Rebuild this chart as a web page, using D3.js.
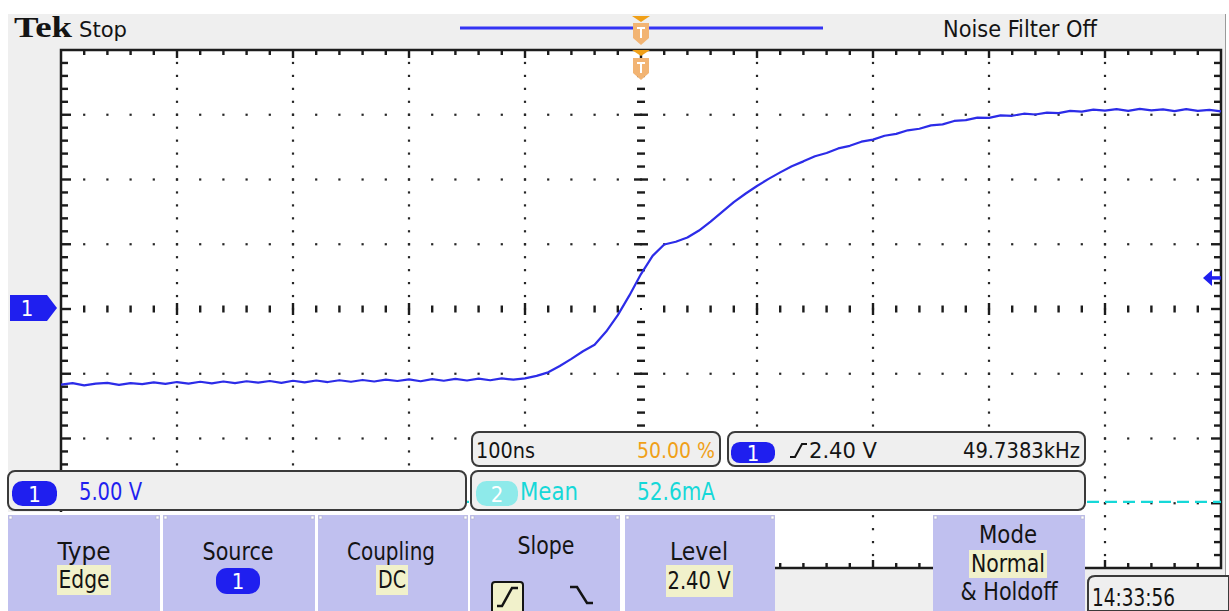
<!DOCTYPE html>
<html>
<head>
<meta charset="utf-8">
<script src="https://cdn.jsdelivr.net/npm/d3@7"></script>
<style>
  html, body { margin: 0; padding: 0; background: #fff; }
  svg { display: block; }
  text { font-family: "DejaVu Sans Condensed", "Liberation Sans Narrow", "DejaVu Sans", sans-serif; font-stretch: condensed; }
</style>
</head>
<body>
<svg id="scope" width="1229" height="611"></svg>
<script>
// ---- Acquisition settings -------------------------------------------------
const timePerDiv = 100;          // ns / div
const voltsPerDiv = 5;           // V / div, channel 1
const divsX = 10, divsY = 8, minorPerDiv = 5;
const triggerLevel = 2.40;       // V
const ch2LevelDiv = -2.98;       // channel 2 trace position, divisions

// ---- Channel 1 record: sample times (ns) and voltages (V) ----------------
const sampleTimes = d3.range(-500, 501, 10);
const ch1Volts = [
  -5.84, -5.72, -5.90, -5.76, -5.70, -5.86, -5.72, -5.80, -5.66, -5.78,
  -5.64, -5.76, -5.62, -5.74, -5.60, -5.72, -5.58, -5.68, -5.56, -5.70,
  -5.54, -5.66, -5.52, -5.64, -5.50, -5.62, -5.48, -5.60, -5.46, -5.56,
  -5.44, -5.58, -5.42, -5.54, -5.40, -5.52, -5.38, -5.50, -5.36, -5.46,
  -5.36, -5.16, -4.89, -4.40, -3.85, -3.26, -2.76, -1.74, -0.47, 1.05,
  2.70, 4.10, 4.98, 5.19, 5.52, 6.06, 6.75, 7.50, 8.25, 8.90,
  9.50, 10.05, 10.55, 11.03, 11.40, 11.80, 12.05, 12.40, 12.60, 12.92,
  13.08, 13.38, 13.52, 13.80, 13.92, 14.18, 14.26, 14.52, 14.58, 14.78,
  14.76, 14.95, 14.92, 15.08, 15.02, 15.16, 15.12, 15.30, 15.24, 15.40,
  15.32, 15.44, 15.30, 15.46, 15.34, 15.42, 15.28, 15.44, 15.30, 15.38,
  15.26
];

// ---- Readout texts ---------------------------------------------------------
const headerLabels = ["Tek", "Stop", "Noise Filter Off"];
const horizReadout = ["100ns", "50.00 %"];
const trigReadout = ["1", "2.40 V", "49.7383kHz"];
const ch1Readout = ["1", "5.00 V"];
const measReadout = ["2", "Mean", "52.6mA"];
const menuTitles = ["Type", "Source", "Coupling", "Slope", "Level", "Mode"];
const menuValues = ["Edge", "1", "DC", "", "2.40 V", "Normal"];
const timestamp = "14:33:56";

// ---- Colours ---------------------------------------------------------------
const C = {
  bezel: "#efefef", grid: "#1c1c1c", trace: "#2c2ce8", ch1: "#1f1fef",
  ch2: "#16d8d8", ch2pill: "#8eeaea", orange: "#f0a018", shield: "#f2b473",
  menu: "#c0c0ef", hilite: "#f1f1cb", ink: "#141414", boxLine: "#3a3a3a"
};

const svg = d3.select("#scope");
const plot = { left: 61, right: 1221, top: 50, bottom: 568 };

const x = d3.scaleLinear()
  .domain([-divsX / 2 * timePerDiv, divsX / 2 * timePerDiv])
  .range([plot.left, plot.right]);
const y = d3.scaleLinear()
  .domain([-divsY / 2 * voltsPerDiv, divsY / 2 * voltsPerDiv])
  .range([plot.bottom, plot.top]);

function label(g, str, o) {
  const t = g.append("text")
    .attr("x", o.x).attr("y", o.y)
    .attr("font-size", o.size || 22)
    .attr("fill", o.fill || C.ink)
    .attr("text-anchor", o.anchor || "start")
    .text(str);
  if (o.width) t.attr("textLength", o.width).attr("lengthAdjust", "spacingAndGlyphs");
  if (o.family) t.style("font-family", o.family).style("font-stretch", "normal");
  if (o.weight) t.attr("font-weight", o.weight);
  return t;
}
function pill(g, x0, y0, x1, y1, fill, txt, txtFill) {
  const h = y1 - y0;
  g.append("rect").attr("x", x0).attr("y", y0).attr("width", x1 - x0).attr("height", h)
    .attr("rx", h * 0.42).attr("ry", h * 0.42).attr("fill", fill);
  label(g, txt, { x: (x0 + x1) / 2, y: y0 + h * 0.5 + 8, size: 22, fill: txtFill, anchor: "middle" });
}

// ---- Bezel -------------------------------------------------------------------
svg.append("rect").attr("width", 1229).attr("height", 611).attr("fill", "#fff");
svg.append("rect").attr("x", 8).attr("y", 14).attr("width", 1217).attr("height", 597).attr("fill", C.bezel);
svg.append("line").attr("x1", 1225.5).attr("x2", 1225.5).attr("y1", 14).attr("y2", 611)
  .attr("stroke", "#9a9a9a").attr("stroke-width", 1);

// ---- Header ------------------------------------------------------------------
const head = svg.append("g");
label(head, headerLabels[0], { x: 14, y: 37, size: 30, width: 58, weight: "bold", family: "'Liberation Serif', 'DejaVu Serif', serif" });
label(head, headerLabels[1], { x: 79, y: 37, size: 21, width: 48 });
label(head, headerLabels[2], { x: 943, y: 37, size: 23, width: 154 });

// record view bar with trigger position marker
head.append("line").attr("x1", 460).attr("x2", 823).attr("y1", 28).attr("y2", 28)
  .attr("stroke", "#3434f4").attr("stroke-width", 3);
function trigMarker(g, cx, yTri, yShield) {
  g.append("path").attr("d", `M${cx - 9},${yTri} H${cx + 9} L${cx},${yTri + 6} Z`).attr("fill", C.orange);
  g.append("path").attr("d", `M${cx - 8},${yShield} H${cx + 8} V${yShield + 15} L${cx},${yShield + 22} L${cx - 8},${yShield + 15} Z`)
    .attr("fill", C.shield);
  g.append("path").attr("d", `M${cx - 4},${yShield + 5} H${cx + 4} M${cx},${yShield + 5} V${yShield + 15}`)
    .attr("stroke", "#fff").attr("stroke-width", 2);
}
const trigX = x(0);
trigMarker(head, trigX, 16, 23);

// ---- Graticule --------------------------------------------------------------
const grat = svg.append("g");
grat.append("rect").attr("x", plot.left).attr("y", plot.top)
  .attr("width", plot.right - plot.left).attr("height", plot.bottom - plot.top).attr("fill", "#fff");

const minorX = d3.range(0, divsX * minorPerDiv + 1).map(i => plot.left + i * (plot.right - plot.left) / (divsX * minorPerDiv));
const minorY = d3.range(0, divsY * minorPerDiv + 1).map(i => plot.top + i * (plot.bottom - plot.top) / (divsY * minorPerDiv));
const majorX = d3.range(1, divsX).map(i => minorX[i * minorPerDiv]);
const majorY = d3.range(1, divsY).map(i => minorY[i * minorPerDiv]);
const cX = minorX[divsX / 2 * minorPerDiv], cY = minorY[divsY / 2 * minorPerDiv];

// dotted major lines
const dots = [];
majorX.forEach(mx => { if (mx !== cX) minorY.slice(1, -1).forEach(my => dots.push([mx, my])); });
majorY.forEach(my => { if (my !== cY) minorX.slice(1, -1).forEach(mx => dots.push([mx, my])); });
grat.selectAll("rect.dot").data(dots).join("rect").attr("class", "dot")
  .attr("x", d => d[0] - 1.1).attr("y", d => d[1] - 1.1).attr("width", 2.2).attr("height", 2.2).attr("fill", "#262626");

// centre cross ticks
minorX.slice(1, -1).forEach((mx, i) => {
  if (Math.abs(mx - cX) < 0.5) return;
  const major = (i + 1) % minorPerDiv === 0;
  const h = major ? 12 : 7;
  grat.append("rect").attr("x", mx - 1.2).attr("y", cY - h / 2).attr("width", 2.4).attr("height", h).attr("fill", C.grid);
});
minorY.slice(1, -1).forEach((my, i) => {
  if (Math.abs(my - cY) < 0.5) return;
  const major = (i + 1) % minorPerDiv === 0;
  const w = major ? 14 : 8;
  grat.append("rect").attr("x", cX - w / 2).attr("y", my - 1.2).attr("width", w).attr("height", 2.4).attr("fill", C.grid);
});
grat.append("rect").attr("x", cX - 1).attr("y", cY - 1).attr("width", 2).attr("height", 2).attr("fill", C.grid);

// border ticks
minorX.slice(1, -1).forEach((mx, i) => {
  const major = (i + 1) % minorPerDiv === 0;
  const l = major ? 8 : 5;
  grat.append("rect").attr("x", mx - 1.2).attr("y", plot.top).attr("width", 2.4).attr("height", l).attr("fill", C.grid);
  grat.append("rect").attr("x", mx - 1.2).attr("y", plot.bottom - l).attr("width", 2.4).attr("height", l).attr("fill", C.grid);
});
minorY.slice(1, -1).forEach((my, i) => {
  const major = (i + 1) % minorPerDiv === 0;
  const l = major ? 10 : 7;
  grat.append("rect").attr("x", plot.left).attr("y", my - 1.2).attr("width", l).attr("height", 2.4).attr("fill", C.grid);
  grat.append("rect").attr("x", plot.right - l).attr("y", my - 1.2).attr("width", l).attr("height", 2.4).attr("fill", C.grid);
});
grat.append("rect").attr("x", plot.left).attr("y", plot.top)
  .attr("width", plot.right - plot.left).attr("height", plot.bottom - plot.top)
  .attr("fill", "none").attr("stroke", C.grid).attr("stroke-width", 2.5);

// trigger position marker on graticule
trigMarker(svg.append("g"), trigX, plot.top, 58);

// ---- Traces -------------------------------------------------------------------
svg.append("line")
  .attr("x1", plot.left).attr("x2", plot.right)
  .attr("y1", y(ch2LevelDiv * voltsPerDiv)).attr("y2", y(ch2LevelDiv * voltsPerDiv))
  .attr("stroke", C.ch2).attr("stroke-width", 2.2).attr("stroke-dasharray", "12,6");

const line = d3.line().x((d, i) => x(sampleTimes[i])).y(d => y(d));
svg.append("path").datum(ch1Volts).attr("d", line)
  .attr("fill", "none").attr("stroke", C.trace).attr("stroke-width", 2.2)
  .attr("stroke-linejoin", "round");

// channel 1 ground marker
const g0 = y(0);
svg.append("path").attr("d", `M10,${g0 - 14} H47 L57,${g0 - 1} L47,${g0 + 12} H10 Z`).attr("fill", C.ch1);
label(svg, "1", { x: 27, y: g0 + 7, size: 22, fill: "#fff", anchor: "middle" });

// trigger level arrow
const tl = y(triggerLevel);
svg.append("path").attr("d", `M1203,${tl} L1212,${tl - 8} V${tl + 8} Z`).attr("fill", C.ch1);
svg.append("line").attr("x1", 1209).attr("x2", 1221).attr("y1", tl).attr("y2", tl)
  .attr("stroke", C.ch1).attr("stroke-width", 3.5);

// ---- Readout boxes --------------------------------------------------------------
const rd = svg.append("g");
function box(x0, y0, x1, y1) {
  rd.append("rect").attr("x", x0).attr("y", y0).attr("width", x1 - x0).attr("height", y1 - y0)
    .attr("rx", 7).attr("ry", 7).attr("fill", C.bezel).attr("stroke", C.boxLine).attr("stroke-width", 2);
}
box(472, 432, 720, 466);
label(rd, horizReadout[0], { x: 476, y: 458, size: 21, width: 59 });
label(rd, horizReadout[1], { x: 637, y: 458, size: 21, width: 78, fill: C.orange });

box(728, 432, 1085, 466);
pill(rd, 731, 442, 775, 463, C.ch1, trigReadout[0], "#fff");
rd.append("path").attr("d", "M790,457 H795 L802,444 H807").attr("fill", "none").attr("stroke", C.ink).attr("stroke-width", 2);
label(rd, trigReadout[1], { x: 809, y: 458, size: 21, width: 68 });
label(rd, trigReadout[2], { x: 1080, y: 458, size: 21, width: 117, anchor: "end" });

box(8, 471, 466, 510);
pill(rd, 12, 481, 57, 506, C.ch1, ch1Readout[0], "#fff");
label(rd, ch1Readout[1], { x: 79, y: 500, size: 24, width: 63, fill: C.ch1 });

box(471, 471, 1085, 510);
pill(rd, 476, 481, 518, 506, C.ch2pill, measReadout[0], "#fff");
label(rd, measReadout[1], { x: 520, y: 500, size: 24, width: 58, fill: C.ch2 });
label(rd, measReadout[2], { x: 637, y: 500, size: 24, width: 78, fill: C.ch2 });

// ---- Side menu buttons ------------------------------------------------------------
const menu = svg.append("g");
menu.append("rect").attr("x", 8).attr("y", 512).attr("width", 767).attr("height", 99).attr("fill", "#fff");
const btnX = [[8, 160], [163, 315], [318, 468], [470, 620], [625, 775], [933, 1085]];
btnX.forEach(([a, b]) => {
  menu.append("rect").attr("x", a).attr("y", 515).attr("width", b - a).attr("height", 100).attr("fill", C.menu);
  [a + 1, b - 4].forEach(cx => menu.append("rect").attr("x", cx).attr("y", 516).attr("width", 3).attr("height", 3)
    .attr("fill", "#fff").attr("stroke", "#b0b0c8").attr("stroke-width", 0.6));
});
function hilite(x0, y0, x1, y1) {
  menu.append("rect").attr("x", x0).attr("y", y0).attr("width", x1 - x0).attr("height", y1 - y0).attr("fill", C.hilite);
}
// Type
label(menu, menuTitles[0], { x: 84, y: 560, size: 25, width: 53, anchor: "middle" });
hilite(57, 565, 111, 595);
label(menu, menuValues[0], { x: 84, y: 588, size: 25, width: 51, anchor: "middle" });
// Source
label(menu, menuTitles[1], { x: 238, y: 560, size: 25, width: 71, anchor: "middle" });
pill(menu, 216, 568, 260, 594, C.ch1, menuValues[1], "#fff");
// Coupling
label(menu, menuTitles[2], { x: 391, y: 560, size: 25, width: 88, anchor: "middle" });
hilite(376, 565, 408, 595);
label(menu, menuValues[2], { x: 392, y: 588, size: 25, width: 28, anchor: "middle" });
// Slope
label(menu, menuTitles[3], { x: 546, y: 554, size: 25, width: 57, anchor: "middle" });
menu.append("rect").attr("x", 492).attr("y", 582).attr("width", 31).attr("height", 34).attr("rx", 3)
  .attr("fill", C.hilite).attr("stroke", C.ink).attr("stroke-width", 2);
menu.append("path").attr("d", "M497,606 H502 L512,588 H518").attr("fill", "none").attr("stroke", C.ink).attr("stroke-width", 2.5);
menu.append("path").attr("d", "M570,587 H577 L587,603 H593").attr("fill", "none").attr("stroke", C.ink).attr("stroke-width", 2.5);
// Level
label(menu, menuTitles[4], { x: 699, y: 560, size: 25, width: 58, anchor: "middle" });
hilite(666, 565, 733, 597);
label(menu, menuValues[4], { x: 699, y: 589, size: 25, width: 63, anchor: "middle" });
// Mode
label(menu, menuTitles[5], { x: 1008, y: 543, size: 25, width: 58, anchor: "middle" });
hilite(969, 550, 1047, 578);
label(menu, menuValues[5], { x: 1008, y: 572, size: 25, width: 74, anchor: "middle" });
label(menu, "& Holdoff", { x: 1009, y: 600, size: 25, width: 97, anchor: "middle" });

// ---- Clock ---------------------------------------------------------------------
svg.append("path").attr("d", "M1088,611 V583 Q1088,576 1095,576 H1229 V611 Z")
  .attr("fill", C.bezel).attr("stroke", C.boxLine).attr("stroke-width", 2);
label(svg, timestamp, { x: 1092, y: 606, size: 25, width: 83 });
</script>
</body>
</html>
